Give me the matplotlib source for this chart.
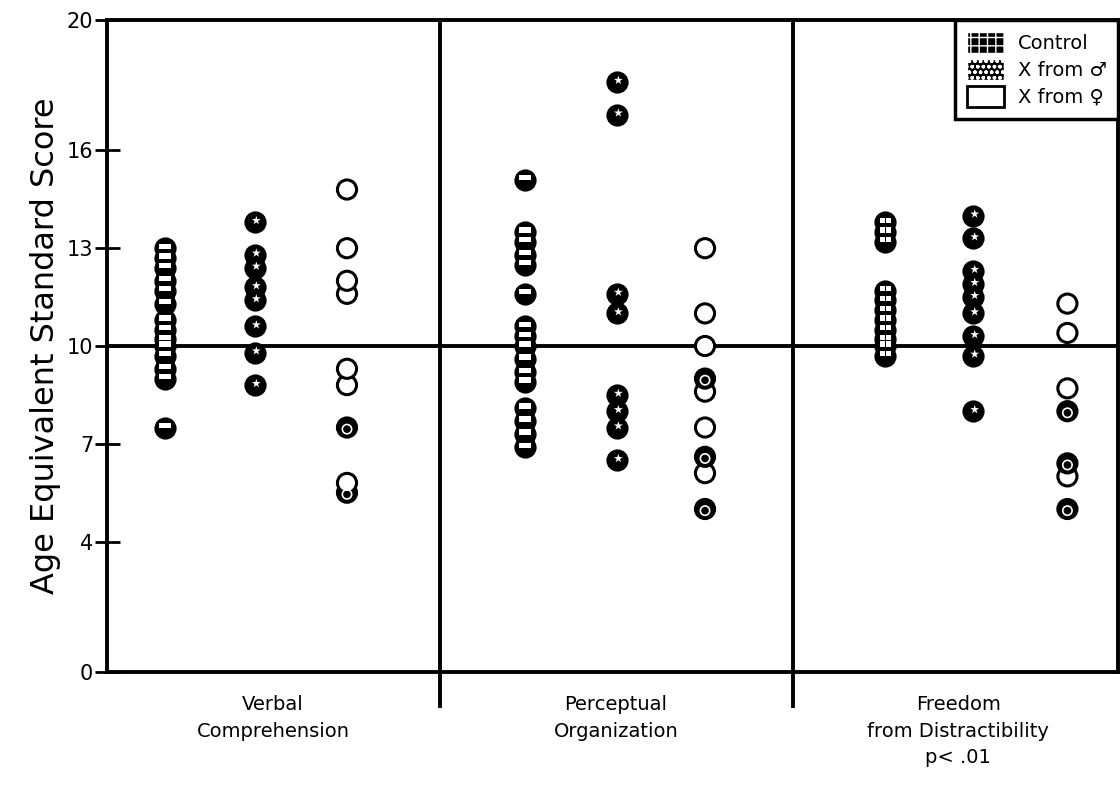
import numpy as np
import matplotlib
matplotlib.use("Agg")
import matplotlib.pyplot as plt
from matplotlib.patches import Patch

plt.rcParams['font.family'] = ['DejaVu Sans']

# scores per subtest: control, X from father, X from mother
panel_labels = ["Verbal\nComprehension", "Perceptual\nOrganization",
                "Freedom\nfrom Distractibility\np< .01"]
group_labels = ["Control", "X from \u2642", "X from \u2640"]

verbal_control = [13.0, 12.7, 12.4, 12.0, 11.7, 11.3, 10.8, 10.5, 10.2, 10.0, 9.7, 9.3, 9.0, 7.5]
verbal_xfather = [13.8, 12.8, 12.4, 11.8, 11.4, 10.6, 9.8, 8.8]
verbal_xmother = [14.8, 13.0, 12.0, 11.6, 9.3, 8.8, 7.5, 7.5, 5.8, 5.5, 5.5]

percep_control = [15.1, 13.5, 13.2, 12.8, 12.5, 11.6, 10.6, 10.3, 10.0, 9.6, 9.2, 8.9, 8.1, 7.7, 7.3, 6.9]
percep_xfather = [18.1, 17.1, 11.6, 11.0, 8.5, 8.0, 7.5, 6.5]
percep_xmother = [13.0, 11.0, 10.0, 9.0, 9.0, 8.6, 7.5, 6.6, 6.6, 6.1, 5.0, 5.0]

distr_control = [13.8, 13.5, 13.2, 11.7, 11.4, 11.1, 10.8, 10.5, 10.2, 10.0, 9.7]
distr_xfather = [14.0, 13.3, 12.3, 11.9, 11.5, 11.0, 10.3, 9.7, 8.0]
distr_xmother = [11.3, 10.4, 8.7, 8.0, 8.0, 6.4, 6.4, 6.0, 5.0, 5.0]

yticks = [0, 4, 7, 10, 13, 16, 20]

# layout on a 0..3 x axis
col_x = [[0.172, 0.439, 0.712], [1.240, 1.513, 1.774], [2.309, 2.570, 2.849]]
dividers = [0.988, 2.036]
label_x = [0.493, 1.510, 2.525]

scores = [[verbal_control, verbal_xfather, verbal_xmother],
          [percep_control, percep_xfather, percep_xmother],
          [distr_control, distr_xfather, distr_xmother]]

fig = plt.figure(figsize=(11.2, 8), dpi=100)
ax = fig.add_axes([0.0955, 0.16, 0.903, 0.815])
ax.set_xlim(0, 3)
ax.set_ylim(0, 20)

S = 190
LW = 2.2
for p in range(3):
    for g in range(3):
        vals = np.array(scores[p][g])
        x0 = col_x[p][g]
        xs = np.full(len(vals), x0)
        if g == 0:
            # solid dot with two small white dashes
            ax.scatter(xs, vals, s=S, facecolors='black', edgecolors='black',
                       linewidths=LW, zorder=3)
            for dx in (-0.009, 0.009):
                ax.scatter(xs + dx, vals + 0.06, s=14, marker='s',
                           facecolors='white', edgecolors='none', zorder=4)
        elif g == 1:
            # solid dot with a white speckle
            ax.scatter(xs, vals, s=S, facecolors='black', edgecolors='black',
                       linewidths=LW, zorder=3)
            ax.scatter(xs + 0.004, vals + 0.05, s=45, facecolors='white',
                       edgecolors='none', marker='*', zorder=4)
        else:
            # open circles, overlapping cases shown darker
            u, cnt = np.unique(vals, return_counts=True)
            xs_u = np.full(len(u), x0)
            multi = cnt > 1
            ax.scatter(xs_u, u, s=S, facecolors=np.where(multi, 'black', 'white'),
                       edgecolors='black', linewidths=LW, zorder=3)
            ax.scatter(xs_u[multi], u[multi] - 0.05, s=45, facecolors='none',
                       edgecolors='white', linewidths=1.2, zorder=4)

ax.axhline(10, color='black', lw=2.8, zorder=2)
for d in dividers:
    ax.plot([d, d], [-1.05, 20], color='black', lw=2.8, clip_on=False, zorder=2)

for x, lab in zip(label_x, panel_labels):
    ax.text(x, -0.72, lab, ha='center', va='top', fontsize=14,
            linespacing=1.5, clip_on=False)

ax.set_yticks(yticks)
ax.set_xticks([])
ax.tick_params(axis='y', direction='inout', length=18, width=2, pad=1,
               labelsize=15)
for sp in ax.spines.values():
    sp.set_linewidth(2.8)
ax.set_ylabel("Age Equivalent Standard Score", fontsize=23, labelpad=4)

handles = [Patch(facecolor='black', edgecolor='white', hatch='++'),
           Patch(facecolor='black', edgecolor='white', hatch='ooo'),
           Patch(facecolor='white', edgecolor='black', lw=2)]
leg = ax.legend(handles, group_labels, loc='upper right', fontsize=14,
                fancybox=False, framealpha=1, edgecolor='black',
                borderaxespad=0, handlelength=1.9, handleheight=1.3,
                handletextpad=0.7, labelspacing=0.3, borderpad=0.6)
leg.get_frame().set_linewidth(2.5)

fig.savefig("out.png", dpi=100)
